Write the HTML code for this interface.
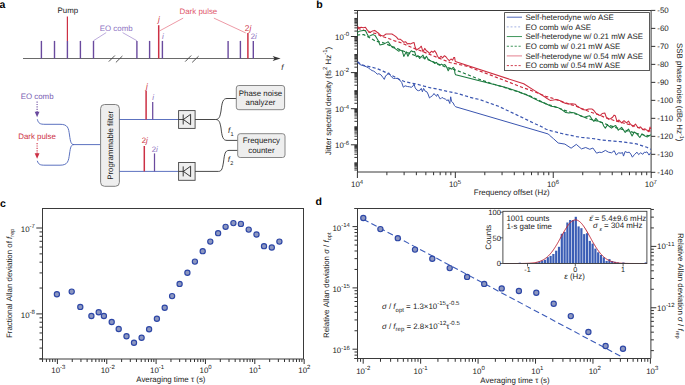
<!DOCTYPE html>
<html><head><meta charset="utf-8"><style>
html,body{margin:0;padding:0;background:#fff;width:685px;height:385px;overflow:hidden}
svg{display:block;font-family:"Liberation Sans", sans-serif;text-rendering:geometricPrecision;font-kerning:none}
</style></head><body>
<svg width="685" height="385" viewBox="0 0 685 385" font-family='"Liberation Sans", sans-serif'>
<rect x="0" y="0" width="685" height="385" fill="#fff"/>
<text x="-0.6" y="8" font-size="10.5" font-weight="bold" fill="#000">a</text>
<text x="316.2" y="8" font-size="10.5" font-weight="bold" fill="#000">b</text>
<text x="-0.1" y="207.1" font-size="10.5" font-weight="bold" fill="#000">c</text>
<text x="315.6" y="204.5" font-size="10.5" font-weight="bold" fill="#000">d</text>
<line x1="23" y1="58.5" x2="276" y2="58.5" stroke="#6a6a6a" stroke-width="1.2" />
<path d="M280.6,58.5 L272.6,55.9 L274.6,58.5 L272.6,61.1 Z" fill="#333"/>
<line x1="108.8" y1="61.6" x2="114.9" y2="55.5" stroke="#444" stroke-width="0.9" />
<line x1="115.9" y1="62.4" x2="122.4" y2="56" stroke="#444" stroke-width="0.9" />
<line x1="185.2" y1="61.6" x2="191.2" y2="55.5" stroke="#444" stroke-width="0.9" />
<line x1="192.2" y1="62.4" x2="198.6" y2="56.2" stroke="#444" stroke-width="0.9" />
<line x1="41.4" y1="40.9" x2="41.4" y2="58.5" stroke="#6a4a9e" stroke-width="1.4" />
<line x1="54.5" y1="40.9" x2="54.5" y2="58.5" stroke="#6a4a9e" stroke-width="1.4" />
<line x1="67.4" y1="40.9" x2="67.4" y2="58.5" stroke="#6a4a9e" stroke-width="1.4" />
<line x1="80.4" y1="40.9" x2="80.4" y2="58.5" stroke="#6a4a9e" stroke-width="1.4" />
<line x1="93.5" y1="40.9" x2="93.5" y2="58.5" stroke="#6a4a9e" stroke-width="1.4" />
<line x1="136.9" y1="40.9" x2="136.9" y2="58.5" stroke="#6a4a9e" stroke-width="1.4" />
<line x1="149.6" y1="40.9" x2="149.6" y2="58.5" stroke="#6a4a9e" stroke-width="1.4" />
<line x1="162.4" y1="40.9" x2="162.4" y2="58.5" stroke="#6a4a9e" stroke-width="1.4" />
<line x1="228.1" y1="40.9" x2="228.1" y2="58.5" stroke="#6a4a9e" stroke-width="1.4" />
<line x1="240.4" y1="40.9" x2="240.4" y2="58.5" stroke="#6a4a9e" stroke-width="1.4" />
<line x1="253.3" y1="40.9" x2="253.3" y2="58.5" stroke="#6a4a9e" stroke-width="1.4" />
<line x1="67.4" y1="16.4" x2="67.4" y2="40.9" stroke="#cc3044" stroke-width="1.2" />
<line x1="158.7" y1="25.2" x2="158.7" y2="58.5" stroke="#cc3044" stroke-width="1.5" />
<line x1="247.9" y1="33" x2="247.9" y2="58.5" stroke="#cc3044" stroke-width="1.5" />
<text x="67.9" y="13.2" font-size="7.9" text-anchor="middle" fill="#222" >Pump</text>
<text x="116.2" y="31" font-size="7.9" text-anchor="middle" fill="#8d71c2" >EO comb</text>
<line x1="106.2" y1="32.6" x2="93.5" y2="40.7" stroke="#8d71c2" stroke-width="0.6" />
<line x1="122.6" y1="32.6" x2="136.9" y2="40.7" stroke="#8d71c2" stroke-width="0.6" />
<text x="198.4" y="14.3" font-size="7.9" text-anchor="middle" fill="#e0566a" >Dark pulse</text>
<line x1="183.2" y1="18.1" x2="159.6" y2="30.9" stroke="#e0566a" stroke-width="0.6" />
<line x1="213.9" y1="18.1" x2="245.7" y2="32.9" stroke="#e0566a" stroke-width="0.6" />
<text x="158.9" y="22.2" font-size="8.3" text-anchor="middle" fill="#cc3044" font-style="italic">j</text>
<text x="163" y="39.2" font-size="7.9" text-anchor="middle" fill="#8d71c2" font-style="italic">i</text>
<text x="248" y="30.8" font-size="8.3" text-anchor="middle" fill="#cc3044" >2<tspan font-style="italic">j</tspan></text>
<text x="253.8" y="38.9" font-size="7.9" text-anchor="middle" fill="#8d71c2" >2<tspan font-style="italic">i</tspan></text>
<text x="282.3" y="69.8" font-size="7.9" text-anchor="middle" fill="#222" font-style="italic">f</text>
<text x="37.1" y="98.6" font-size="7.9" text-anchor="middle" fill="#7a5cb2" >EO comb</text>
<line x1="37.1" y1="101.5" x2="37.1" y2="113" stroke="#6a4a9e" stroke-width="1.1" stroke-dasharray="1.2 1.2"/>
<path d="M37.1,117.2 L34.7,111.8 L39.5,111.8 Z" fill="#6a4a9e"/>
<text x="37.1" y="139.3" font-size="7.9" text-anchor="middle" fill="#cc3044" >Dark pulse</text>
<line x1="37.1" y1="143" x2="37.1" y2="154.5" stroke="#cc3044" stroke-width="1.1" stroke-dasharray="1.2 1.2"/>
<path d="M37.1,158.7 L34.7,153.3 L39.5,153.3 Z" fill="#cc3044"/>
<path d="M37.3,119.3 C38.5,123.5 40,124.3 45,124.3 L60,124.3 C68,124.3 68.5,128 69.5,135 C70.5,142 71,144.6 74,144.6 L100.5,144.6" fill="none" stroke="#4a62b8" stroke-width="0.9"/>
<path d="M37.3,160.8 C38.5,164.5 40,165.2 45,165.2 L60,165.2 C68,165.2 68.5,161 69.5,154 C70.5,147 71,144.6 74,144.6" fill="none" stroke="#4a62b8" stroke-width="0.9"/>
<rect x="100.6" y="104.5" width="18.8" height="81.8" rx="4" ry="4" fill="#eeeeee" stroke="#808080" stroke-width="1"/>
<text transform="translate(113.2,145.4) rotate(-90)" x="0" y="0" font-size="7.9" text-anchor="middle" fill="#222">Programmable filter</text>
<line x1="119.4" y1="119.5" x2="178.6" y2="119.5" stroke="#4a62b8" stroke-width="0.9" />
<line x1="119.4" y1="171.4" x2="178.6" y2="171.4" stroke="#4a62b8" stroke-width="0.9" />
<line x1="146.1" y1="90.8" x2="146.1" y2="119.5" stroke="#cc3044" stroke-width="1.5" />
<line x1="152.7" y1="101.9" x2="152.7" y2="119.5" stroke="#6a4a9e" stroke-width="1.25" />
<text x="146.9" y="89" font-size="8.3" text-anchor="middle" fill="#cc3044" font-style="italic">j</text>
<text x="153.2" y="99.6" font-size="7.9" text-anchor="middle" fill="#8d71c2" font-style="italic">i</text>
<line x1="144.3" y1="146" x2="144.3" y2="171.4" stroke="#cc3044" stroke-width="1.5" />
<line x1="154.5" y1="153.4" x2="154.5" y2="171.4" stroke="#6a4a9e" stroke-width="1.25" />
<text x="144.8" y="143.3" font-size="7.9" text-anchor="middle" fill="#cc3044" >2<tspan font-style="italic">j</tspan></text>
<text x="154.8" y="151.8" font-size="7.9" text-anchor="middle" fill="#8d71c2" >2<tspan font-style="italic">i</tspan></text>
<rect x="178.6" y="110.6" width="16.5" height="17.8" fill="#eeeeee" stroke="#444" stroke-width="0.9"/>
<line x1="178.6" y1="119.5" x2="183.2" y2="119.5" stroke="#333" stroke-width="0.9" />
<line x1="183.2" y1="114.5" x2="183.2" y2="124.5" stroke="#222" stroke-width="0.9" />
<path d="M190.6,114.3 L183.4,119.5 L190.6,124.7 Z" fill="none" stroke="#222" stroke-width="0.9" stroke-linejoin="miter"/>
<rect x="178.6" y="162.5" width="16.5" height="17.8" fill="#eeeeee" stroke="#444" stroke-width="0.9"/>
<line x1="178.6" y1="171.4" x2="183.2" y2="171.4" stroke="#333" stroke-width="0.9" />
<line x1="183.2" y1="166.4" x2="183.2" y2="176.4" stroke="#222" stroke-width="0.9" />
<path d="M190.6,166.2 L183.4,171.4 L190.6,176.6 Z" fill="none" stroke="#222" stroke-width="0.9" stroke-linejoin="miter"/>
<path d="M195.1,119.5 L215.5,119.5 C219,119.5 220,117 221,111 C222,102 223,98.5 227,98.5 L236.3,98.5" fill="none" stroke="#333" stroke-width="0.9"/>
<path d="M215.5,119.5 C219,119.5 220,122 221,128 C222,137 223,140.4 227,140.4 L237.7,140.4" fill="none" stroke="#333" stroke-width="0.9"/>
<path d="M195.1,171.4 L218.5,171.4 C222,171.4 222.5,168 223.5,162 C224.5,154 225,150.4 229,150.4 L237.7,150.4" fill="none" stroke="#333" stroke-width="0.9"/>
<rect x="236.3" y="85.5" width="48.3" height="24.2" rx="2.5" ry="2.5" fill="#eeeeee" stroke="#7a7a7a" stroke-width="0.9"/>
<text x="260.5" y="96" font-size="7.9" text-anchor="middle" fill="#222" >Phase noise</text>
<text x="260.5" y="105.3" font-size="7.9" text-anchor="middle" fill="#222" >analyzer</text>
<rect x="237.7" y="133.7" width="47.3" height="23.8" rx="2.5" ry="2.5" fill="#eeeeee" stroke="#7a7a7a" stroke-width="0.9"/>
<text x="261.4" y="143.4" font-size="7.9" text-anchor="middle" fill="#222" >Frequency</text>
<text x="261.4" y="153" font-size="7.9" text-anchor="middle" fill="#222" >counter</text>
<text x="228" y="132.6" font-size="7.9" text-anchor="start" fill="#222" ><tspan font-style="italic">f</tspan><tspan font-size="5.6" dy="3.2" dx="0.3">1</tspan></text>
<text x="227.8" y="162" font-size="7.9" text-anchor="start" fill="#222" ><tspan font-style="italic">f</tspan><tspan font-size="5.6" dy="3.4" dx="0.3">2</tspan></text>
<line x1="357.4" y1="172" x2="357.4" y2="178" stroke="#1a1a1a" stroke-width="0.9" />
<line x1="386.88" y1="172" x2="386.88" y2="175.2" stroke="#1a1a1a" stroke-width="0.9" />
<line x1="404.12" y1="172" x2="404.12" y2="175.2" stroke="#1a1a1a" stroke-width="0.9" />
<line x1="416.36" y1="172" x2="416.36" y2="175.2" stroke="#1a1a1a" stroke-width="0.9" />
<line x1="425.85" y1="172" x2="425.85" y2="175.2" stroke="#1a1a1a" stroke-width="0.9" />
<line x1="433.6" y1="172" x2="433.6" y2="175.2" stroke="#1a1a1a" stroke-width="0.9" />
<line x1="440.16" y1="172" x2="440.16" y2="175.2" stroke="#1a1a1a" stroke-width="0.9" />
<line x1="445.84" y1="172" x2="445.84" y2="175.2" stroke="#1a1a1a" stroke-width="0.9" />
<line x1="450.85" y1="172" x2="450.85" y2="175.2" stroke="#1a1a1a" stroke-width="0.9" />
<line x1="455.33" y1="172" x2="455.33" y2="178" stroke="#1a1a1a" stroke-width="0.9" />
<line x1="484.81" y1="172" x2="484.81" y2="175.2" stroke="#1a1a1a" stroke-width="0.9" />
<line x1="502.05" y1="172" x2="502.05" y2="175.2" stroke="#1a1a1a" stroke-width="0.9" />
<line x1="514.29" y1="172" x2="514.29" y2="175.2" stroke="#1a1a1a" stroke-width="0.9" />
<line x1="523.78" y1="172" x2="523.78" y2="175.2" stroke="#1a1a1a" stroke-width="0.9" />
<line x1="531.53" y1="172" x2="531.53" y2="175.2" stroke="#1a1a1a" stroke-width="0.9" />
<line x1="538.09" y1="172" x2="538.09" y2="175.2" stroke="#1a1a1a" stroke-width="0.9" />
<line x1="543.77" y1="172" x2="543.77" y2="175.2" stroke="#1a1a1a" stroke-width="0.9" />
<line x1="548.78" y1="172" x2="548.78" y2="175.2" stroke="#1a1a1a" stroke-width="0.9" />
<line x1="553.26" y1="172" x2="553.26" y2="178" stroke="#1a1a1a" stroke-width="0.9" />
<line x1="582.74" y1="172" x2="582.74" y2="175.2" stroke="#1a1a1a" stroke-width="0.9" />
<line x1="599.98" y1="172" x2="599.98" y2="175.2" stroke="#1a1a1a" stroke-width="0.9" />
<line x1="612.22" y1="172" x2="612.22" y2="175.2" stroke="#1a1a1a" stroke-width="0.9" />
<line x1="621.71" y1="172" x2="621.71" y2="175.2" stroke="#1a1a1a" stroke-width="0.9" />
<line x1="629.46" y1="172" x2="629.46" y2="175.2" stroke="#1a1a1a" stroke-width="0.9" />
<line x1="636.02" y1="172" x2="636.02" y2="175.2" stroke="#1a1a1a" stroke-width="0.9" />
<line x1="641.7" y1="172" x2="641.7" y2="175.2" stroke="#1a1a1a" stroke-width="0.9" />
<line x1="646.71" y1="172" x2="646.71" y2="175.2" stroke="#1a1a1a" stroke-width="0.9" />
<line x1="651.19" y1="172" x2="651.19" y2="178" stroke="#1a1a1a" stroke-width="0.9" />
<text x="357.1" y="187" font-size="7.9" text-anchor="middle" fill="#222">10<tspan font-size="6" dy="-3.5">4</tspan></text>
<text x="455.03" y="187" font-size="7.9" text-anchor="middle" fill="#222">10<tspan font-size="6" dy="-3.5">5</tspan></text>
<text x="552.96" y="187" font-size="7.9" text-anchor="middle" fill="#222">10<tspan font-size="6" dy="-3.5">6</tspan></text>
<text x="650.89" y="187" font-size="7.9" text-anchor="middle" fill="#222">10<tspan font-size="6" dy="-3.5">7</tspan></text>
<line x1="354.4" y1="170.03" x2="357.5" y2="170.03" stroke="#1a1a1a" stroke-width="0.9" />
<line x1="354.4" y1="168.28" x2="357.5" y2="168.28" stroke="#1a1a1a" stroke-width="0.9" />
<line x1="354.4" y1="166.85" x2="357.5" y2="166.85" stroke="#1a1a1a" stroke-width="0.9" />
<line x1="354.4" y1="165.65" x2="357.5" y2="165.65" stroke="#1a1a1a" stroke-width="0.9" />
<line x1="354.4" y1="164.6" x2="357.5" y2="164.6" stroke="#1a1a1a" stroke-width="0.9" />
<line x1="354.4" y1="163.68" x2="357.5" y2="163.68" stroke="#1a1a1a" stroke-width="0.9" />
<line x1="354.4" y1="162.85" x2="357.5" y2="162.85" stroke="#1a1a1a" stroke-width="0.9" />
<line x1="354.4" y1="157.42" x2="357.5" y2="157.42" stroke="#1a1a1a" stroke-width="0.9" />
<line x1="354.4" y1="154.24" x2="357.5" y2="154.24" stroke="#1a1a1a" stroke-width="0.9" />
<line x1="354.4" y1="151.98" x2="357.5" y2="151.98" stroke="#1a1a1a" stroke-width="0.9" />
<line x1="354.4" y1="150.23" x2="357.5" y2="150.23" stroke="#1a1a1a" stroke-width="0.9" />
<line x1="354.4" y1="148.8" x2="357.5" y2="148.8" stroke="#1a1a1a" stroke-width="0.9" />
<line x1="354.4" y1="147.6" x2="357.5" y2="147.6" stroke="#1a1a1a" stroke-width="0.9" />
<line x1="354.4" y1="146.55" x2="357.5" y2="146.55" stroke="#1a1a1a" stroke-width="0.9" />
<line x1="354.4" y1="145.63" x2="357.5" y2="145.63" stroke="#1a1a1a" stroke-width="0.9" />
<line x1="350.9" y1="144.8" x2="357.5" y2="144.8" stroke="#1a1a1a" stroke-width="0.9" />
<line x1="354.4" y1="139.37" x2="357.5" y2="139.37" stroke="#1a1a1a" stroke-width="0.9" />
<line x1="354.4" y1="136.19" x2="357.5" y2="136.19" stroke="#1a1a1a" stroke-width="0.9" />
<line x1="354.4" y1="133.93" x2="357.5" y2="133.93" stroke="#1a1a1a" stroke-width="0.9" />
<line x1="354.4" y1="132.18" x2="357.5" y2="132.18" stroke="#1a1a1a" stroke-width="0.9" />
<line x1="354.4" y1="130.75" x2="357.5" y2="130.75" stroke="#1a1a1a" stroke-width="0.9" />
<line x1="354.4" y1="129.55" x2="357.5" y2="129.55" stroke="#1a1a1a" stroke-width="0.9" />
<line x1="354.4" y1="128.5" x2="357.5" y2="128.5" stroke="#1a1a1a" stroke-width="0.9" />
<line x1="354.4" y1="127.58" x2="357.5" y2="127.58" stroke="#1a1a1a" stroke-width="0.9" />
<line x1="354.4" y1="126.75" x2="357.5" y2="126.75" stroke="#1a1a1a" stroke-width="0.9" />
<line x1="354.4" y1="121.32" x2="357.5" y2="121.32" stroke="#1a1a1a" stroke-width="0.9" />
<line x1="354.4" y1="118.14" x2="357.5" y2="118.14" stroke="#1a1a1a" stroke-width="0.9" />
<line x1="354.4" y1="115.88" x2="357.5" y2="115.88" stroke="#1a1a1a" stroke-width="0.9" />
<line x1="354.4" y1="114.13" x2="357.5" y2="114.13" stroke="#1a1a1a" stroke-width="0.9" />
<line x1="354.4" y1="112.7" x2="357.5" y2="112.7" stroke="#1a1a1a" stroke-width="0.9" />
<line x1="354.4" y1="111.5" x2="357.5" y2="111.5" stroke="#1a1a1a" stroke-width="0.9" />
<line x1="354.4" y1="110.45" x2="357.5" y2="110.45" stroke="#1a1a1a" stroke-width="0.9" />
<line x1="354.4" y1="109.53" x2="357.5" y2="109.53" stroke="#1a1a1a" stroke-width="0.9" />
<line x1="350.9" y1="108.7" x2="357.5" y2="108.7" stroke="#1a1a1a" stroke-width="0.9" />
<line x1="354.4" y1="103.27" x2="357.5" y2="103.27" stroke="#1a1a1a" stroke-width="0.9" />
<line x1="354.4" y1="100.09" x2="357.5" y2="100.09" stroke="#1a1a1a" stroke-width="0.9" />
<line x1="354.4" y1="97.83" x2="357.5" y2="97.83" stroke="#1a1a1a" stroke-width="0.9" />
<line x1="354.4" y1="96.08" x2="357.5" y2="96.08" stroke="#1a1a1a" stroke-width="0.9" />
<line x1="354.4" y1="94.65" x2="357.5" y2="94.65" stroke="#1a1a1a" stroke-width="0.9" />
<line x1="354.4" y1="93.45" x2="357.5" y2="93.45" stroke="#1a1a1a" stroke-width="0.9" />
<line x1="354.4" y1="92.4" x2="357.5" y2="92.4" stroke="#1a1a1a" stroke-width="0.9" />
<line x1="354.4" y1="91.48" x2="357.5" y2="91.48" stroke="#1a1a1a" stroke-width="0.9" />
<line x1="354.4" y1="90.65" x2="357.5" y2="90.65" stroke="#1a1a1a" stroke-width="0.9" />
<line x1="354.4" y1="85.22" x2="357.5" y2="85.22" stroke="#1a1a1a" stroke-width="0.9" />
<line x1="354.4" y1="82.04" x2="357.5" y2="82.04" stroke="#1a1a1a" stroke-width="0.9" />
<line x1="354.4" y1="79.78" x2="357.5" y2="79.78" stroke="#1a1a1a" stroke-width="0.9" />
<line x1="354.4" y1="78.03" x2="357.5" y2="78.03" stroke="#1a1a1a" stroke-width="0.9" />
<line x1="354.4" y1="76.6" x2="357.5" y2="76.6" stroke="#1a1a1a" stroke-width="0.9" />
<line x1="354.4" y1="75.4" x2="357.5" y2="75.4" stroke="#1a1a1a" stroke-width="0.9" />
<line x1="354.4" y1="74.35" x2="357.5" y2="74.35" stroke="#1a1a1a" stroke-width="0.9" />
<line x1="354.4" y1="73.43" x2="357.5" y2="73.43" stroke="#1a1a1a" stroke-width="0.9" />
<line x1="350.9" y1="72.6" x2="357.5" y2="72.6" stroke="#1a1a1a" stroke-width="0.9" />
<line x1="354.4" y1="67.17" x2="357.5" y2="67.17" stroke="#1a1a1a" stroke-width="0.9" />
<line x1="354.4" y1="63.99" x2="357.5" y2="63.99" stroke="#1a1a1a" stroke-width="0.9" />
<line x1="354.4" y1="61.73" x2="357.5" y2="61.73" stroke="#1a1a1a" stroke-width="0.9" />
<line x1="354.4" y1="59.98" x2="357.5" y2="59.98" stroke="#1a1a1a" stroke-width="0.9" />
<line x1="354.4" y1="58.55" x2="357.5" y2="58.55" stroke="#1a1a1a" stroke-width="0.9" />
<line x1="354.4" y1="57.35" x2="357.5" y2="57.35" stroke="#1a1a1a" stroke-width="0.9" />
<line x1="354.4" y1="56.3" x2="357.5" y2="56.3" stroke="#1a1a1a" stroke-width="0.9" />
<line x1="354.4" y1="55.38" x2="357.5" y2="55.38" stroke="#1a1a1a" stroke-width="0.9" />
<line x1="354.4" y1="54.55" x2="357.5" y2="54.55" stroke="#1a1a1a" stroke-width="0.9" />
<line x1="354.4" y1="49.12" x2="357.5" y2="49.12" stroke="#1a1a1a" stroke-width="0.9" />
<line x1="354.4" y1="45.94" x2="357.5" y2="45.94" stroke="#1a1a1a" stroke-width="0.9" />
<line x1="354.4" y1="43.68" x2="357.5" y2="43.68" stroke="#1a1a1a" stroke-width="0.9" />
<line x1="354.4" y1="41.93" x2="357.5" y2="41.93" stroke="#1a1a1a" stroke-width="0.9" />
<line x1="354.4" y1="40.5" x2="357.5" y2="40.5" stroke="#1a1a1a" stroke-width="0.9" />
<line x1="354.4" y1="39.3" x2="357.5" y2="39.3" stroke="#1a1a1a" stroke-width="0.9" />
<line x1="354.4" y1="38.25" x2="357.5" y2="38.25" stroke="#1a1a1a" stroke-width="0.9" />
<line x1="354.4" y1="37.33" x2="357.5" y2="37.33" stroke="#1a1a1a" stroke-width="0.9" />
<line x1="350.9" y1="36.5" x2="357.5" y2="36.5" stroke="#1a1a1a" stroke-width="0.9" />
<line x1="354.4" y1="31.07" x2="357.5" y2="31.07" stroke="#1a1a1a" stroke-width="0.9" />
<line x1="354.4" y1="27.89" x2="357.5" y2="27.89" stroke="#1a1a1a" stroke-width="0.9" />
<line x1="354.4" y1="25.63" x2="357.5" y2="25.63" stroke="#1a1a1a" stroke-width="0.9" />
<line x1="354.4" y1="23.88" x2="357.5" y2="23.88" stroke="#1a1a1a" stroke-width="0.9" />
<line x1="354.4" y1="22.45" x2="357.5" y2="22.45" stroke="#1a1a1a" stroke-width="0.9" />
<line x1="354.4" y1="21.25" x2="357.5" y2="21.25" stroke="#1a1a1a" stroke-width="0.9" />
<line x1="354.4" y1="20.2" x2="357.5" y2="20.2" stroke="#1a1a1a" stroke-width="0.9" />
<line x1="354.4" y1="19.28" x2="357.5" y2="19.28" stroke="#1a1a1a" stroke-width="0.9" />
<line x1="354.4" y1="18.45" x2="357.5" y2="18.45" stroke="#1a1a1a" stroke-width="0.9" />
<line x1="354.4" y1="13.02" x2="357.5" y2="13.02" stroke="#1a1a1a" stroke-width="0.9" />
<text x="349.2" y="39.8" font-size="7.9" text-anchor="end" fill="#222">10<tspan font-size="6" dy="-3.5">-0</tspan></text>
<text x="349.2" y="75.9" font-size="7.9" text-anchor="end" fill="#222">10<tspan font-size="6" dy="-3.5">-2</tspan></text>
<text x="349.2" y="112" font-size="7.9" text-anchor="end" fill="#222">10<tspan font-size="6" dy="-3.5">-4</tspan></text>
<text x="349.2" y="148.1" font-size="7.9" text-anchor="end" fill="#222">10<tspan font-size="6" dy="-3.5">-6</tspan></text>
<line x1="651.1" y1="10.4" x2="655.3" y2="10.4" stroke="#1a1a1a" stroke-width="0.9" />
<text x="657.3" y="13.3" font-size="7.9" text-anchor="start" fill="#222" >-50</text>
<line x1="651.1" y1="28.39" x2="655.3" y2="28.39" stroke="#1a1a1a" stroke-width="0.9" />
<text x="657.3" y="31.29" font-size="7.9" text-anchor="start" fill="#222" >-60</text>
<line x1="651.1" y1="46.38" x2="655.3" y2="46.38" stroke="#1a1a1a" stroke-width="0.9" />
<text x="657.3" y="49.28" font-size="7.9" text-anchor="start" fill="#222" >-70</text>
<line x1="651.1" y1="64.37" x2="655.3" y2="64.37" stroke="#1a1a1a" stroke-width="0.9" />
<text x="657.3" y="67.27" font-size="7.9" text-anchor="start" fill="#222" >-80</text>
<line x1="651.1" y1="82.36" x2="655.3" y2="82.36" stroke="#1a1a1a" stroke-width="0.9" />
<text x="657.3" y="85.26" font-size="7.9" text-anchor="start" fill="#222" >-90</text>
<line x1="651.1" y1="100.35" x2="655.3" y2="100.35" stroke="#1a1a1a" stroke-width="0.9" />
<text x="657.3" y="103.25" font-size="7.9" text-anchor="start" fill="#222" >-100</text>
<line x1="651.1" y1="118.34" x2="655.3" y2="118.34" stroke="#1a1a1a" stroke-width="0.9" />
<text x="657.3" y="121.24" font-size="7.9" text-anchor="start" fill="#222" >-110</text>
<line x1="651.1" y1="136.33" x2="655.3" y2="136.33" stroke="#1a1a1a" stroke-width="0.9" />
<text x="657.3" y="139.23" font-size="7.9" text-anchor="start" fill="#222" >-120</text>
<line x1="651.1" y1="154.32" x2="655.3" y2="154.32" stroke="#1a1a1a" stroke-width="0.9" />
<text x="657.3" y="157.22" font-size="7.9" text-anchor="start" fill="#222" >-130</text>
<line x1="651.1" y1="172.31" x2="655.3" y2="172.31" stroke="#1a1a1a" stroke-width="0.9" />
<text x="657.3" y="175.21" font-size="7.9" text-anchor="start" fill="#222" >-140</text>
<line x1="354" y1="10.5" x2="651.1" y2="10.5" stroke="#3a3a3a" stroke-width="1" />
<line x1="357.5" y1="172" x2="651.1" y2="172" stroke="#3a3a3a" stroke-width="1" />
<line x1="357.5" y1="10.5" x2="357.5" y2="172" stroke="#3a3a3a" stroke-width="1" />
<line x1="651.1" y1="10.5" x2="651.1" y2="172" stroke="#3a3a3a" stroke-width="1" />
<text x="511.8" y="195.4" font-size="7.9" text-anchor="middle" fill="#222" >Frequency offset (Hz)</text>
<text transform="translate(330.6,100.9) rotate(-90)" font-size="7.9" text-anchor="middle" fill="#222">Jitter spectral density  (fs<tspan font-size="6" dy="-4">2</tspan><tspan dy="4"> Hz</tspan><tspan font-size="6" dy="-4">-1</tspan><tspan dy="4">)</tspan></text>
<text transform="translate(676.5,92.3) rotate(90)" font-size="7.9" text-anchor="middle" fill="#222">SSB phase noise  (dBc Hz<tspan font-size="5.6" dy="-3">-1</tspan><tspan dy="3">)</tspan></text>
<polyline points="357.6,61.8 360.7,64.2 364.3,65.5 370,66.8 376.8,68.5 383,71.1 389.3,74.2 394.5,76.8 400.7,80 404.9,81.7 410.7,82.9 417.4,84.3 424.1,86.2 430.8,87.9 437.5,89 444.3,90.7 451,92.1 457.7,93.5 470,97.3 479.9,99.6 489.2,103 498.6,106.3 507.4,110.5 516.2,114.6 525,118.9 533,122.8 541.6,126.7 546.2,129.3 551.4,130.9 556.6,132.2 561.8,133.5 567,134.7 572.2,135.6 576.3,136.6 581.5,137.4 586.7,137.9 591.9,138.5 597.1,139.2 601.2,140.1 607.5,140.6 613.7,141.1 619.9,141.6 626.1,142.4 631.3,143.2 636.5,143.9 641.7,145.6 646.9,147.3 650.8,149.4" fill="none" stroke="#3a55b0" stroke-width="1.2" stroke-dasharray="3.2 2.2" stroke-linejoin="round" />
<polyline points="357,35.1 361.2,34.6 363.8,34.6 370.6,38.2 375.8,41.3 382,42.3 387.2,44.4 392.4,46.5 398.6,49.1 403.8,51.2 415,55.5 423.6,57.8 431,61 438.2,64 446,67.2 456.2,70.2 466.7,74.3 478.4,79 490.1,83.1 501.8,86.6 512,89.9 528.4,95.1 545.9,103.9 553,106 563.7,110 576.2,114.1 588.7,118.8 600,121.9 608.4,125 618.8,128.6 629.2,131.2 639.6,134.3 650.8,135.9" fill="none" stroke="#1b7a3e" stroke-width="1.2" stroke-dasharray="3.2 2.2" stroke-linejoin="round" />
<polyline points="357.6,28.5 362,29.5 368.5,32 376.8,33.8 381,36.1 389.3,38.7 394.5,40.8 399.7,42.3 405,44.5 411.3,47.3 420,50.5 434.2,56.2 450,62.5 466.7,66.1 490.1,74.9 510.8,82.9 522.5,87.5 534.2,91.6 545.9,96.3 554.1,98.7 565,102.7 576.2,106.3 586.6,110.5 590.7,112.2 600,115.2 604.2,117.2 613.6,120.3 625,123.4 634.4,126 643.7,129.6 650.8,131.2" fill="none" stroke="#cc2b3e" stroke-width="1.2" stroke-dasharray="3.2 2.2" stroke-linejoin="round" />
<polyline points="357.6,61.8 359.6,64.4 362.2,65.4 364.8,66.2 366.9,67 368.5,68 370.6,69.6 372.1,70.6 373.7,71.1 375.2,72.2 377.3,74.2 378.9,73.7 380.9,74.8 382.8,77.3 384.3,79.4 385.6,75.8 387.2,74.8 388.7,72.7 390.3,75.3 391.9,77.3 393.4,78.4 395.5,78.4 397.6,78.4 399.7,80 401.7,82.5 403.3,87.2 405.1,85.8 407.4,86.5 409.6,86.8 411.3,87.3 412.9,86.2 414.1,84 415.2,87.9 416.9,90.1 418.5,90.7 420.2,90.1 421.3,88.4 422.4,91.8 423.6,88.4 425.2,91.2 426.9,91.8 428,94 429.5,98 430.8,96.8 432.5,95.7 434,93.5 435.3,95.2 436.6,96.3 437.5,94 438.9,96.8 440.3,99.1 442,97.4 443.7,98.5 445.4,99.1 447,100.7 448.2,99.6 449.8,103.5 450.7,96.8 451.5,101.3 453.2,103 454.5,105.6 455.7,106.8 548.3,134 549.3,135.1 553.5,138.7 558.2,143 564.9,144.1 571.1,148.2 576.3,144.4 581.5,148.9 585.7,147.5 589.8,149.3 592.9,148 596.6,153.2 599.2,152.2 601.7,152.5 605.4,150.4 608.5,152.2 611.6,152.8 614.2,150.7 616.3,155.1 618.4,152.8 621,153.2 622.5,152.5 623.5,156.1 625.1,151.5 627.2,152.5 629.3,152.2 630.8,154.1 632.4,157.2 634.4,154.6 637,152.2 638.6,154.6 640.7,152.8 642.8,154.3 644.3,152.2 645.9,152.5 646.9,151.8 647.9,153.2 649,155.1 650.8,152.5" fill="none" stroke="#3a55b0" stroke-width="1.0" stroke-linejoin="round" />
<polyline points="357,32.5 360.2,30.9 363.3,30.4 365.4,30.4 366.9,33.5 368.5,36.6 370.6,35.6 373.2,34.6 375.2,35.6 376.8,38.2 378.3,40.8 379.9,44.9 382,44.4 384.1,43.9 386.1,42.9 388.2,41.8 390.3,44.9 392.4,47.5 394.5,48.1 396.5,49.6 398.6,51.2 400.7,50.1 402.3,51.2 403.8,56.4 405.1,54 406.2,51.8 407.9,56.2 409.6,52.9 411.3,50.7 412.9,51.8 414.6,51.5 416.3,56.8 418,55.7 419.7,58.5 421.3,56.8 423,55.1 424.7,59 426.4,56.2 428,59 429.7,60.2 431.4,61.3 433.1,61.8 434.7,63.5 436.4,62.4 438.1,64.6 439.8,65.2 441.5,64.1 443.1,65.2 444.8,64.6 446.5,66.9 448.2,70.8 449.8,68 451.5,69.1 453.2,67.4 454.3,68.5 455,73.5 455.7,74.7 505,87.3 516.7,91.1 528.4,95.7 540.1,101.6 545,103.2 548.1,104.8 551.2,106.3 554.4,106.8 557.5,107.4 560.6,108.9 563.7,111 565.8,112.6 568.9,113.1 572,112.6 575.2,113.1 578.3,114.6 581.4,116.2 584.5,117.2 587.6,116.2 589.7,115.7 591.8,118.8 593.9,121.4 595.9,118.3 598,120.9 599.6,121.8 602.2,122.4 603.7,126 605.3,128.1 607.4,125 609.4,126.5 611.5,128.1 613.6,126.5 615.7,125.5 618.3,130.2 621.6,127.3 625.2,132.4 628.5,129.1 632.1,136 634.3,132 636.8,133.8 639.8,137.5 642,133.8 645,136 647.4,136.9 648.9,135.9 650.8,134.8" fill="none" stroke="#1b7a3e" stroke-width="1.05" stroke-linejoin="round" />
<polyline points="357.6,26.8 359.1,27.8 361.2,27.3 363.3,27.8 365.4,27.3 367.4,30.4 370,32.5 372.6,30.9 374.7,30.4 376.8,32 378.9,33.5 381,35.6 383,36.1 386.1,34 389.3,34 391.9,34 394.5,35.6 396.5,37.2 398.1,39.2 400.2,39.2 402.3,40.8 403.8,42.3 405.7,41.7 407.4,43.9 409,43.4 410.7,43.9 412.4,43 414.1,42.6 415.2,47.3 416.3,50.1 418,49 419.7,47.9 421.3,46.2 423,51.8 424.7,48.4 426.4,50.7 428,51.8 429.7,53.4 431.4,51.2 433.1,52.3 434.7,50.7 436.4,53.4 437.5,56.2 439.2,58.5 440.9,56.2 442.6,57.9 444.3,55.7 445.9,56.8 447.6,59 449.3,60.7 451,59 452.6,60.2 453.8,57.4 454.6,57.4 455.2,61.1 456,61.8 523.7,83.8 535.4,91.1 545,97 547.1,98.5 550.2,100.4 553.3,100.1 556.4,99.6 559.6,100.4 562.7,102.2 565.8,103.5 568.9,104 572,103.7 575.2,104.2 577.2,106.3 579.3,107.4 582.4,109.4 585.5,110 588.7,108.9 591.8,108.9 593.9,110.5 595.9,113.1 598,114.6 600.1,115.6 602.2,113.5 604.8,113 606.3,117.2 608.4,119.2 610.5,118.7 612.6,117.2 614.1,115.1 615.3,115.7 617,121.5 619,120 621.5,122.9 624,120.7 626.5,122.9 628.5,121.1 630,123.7 633,126.6 635.5,124 638,127.7 640.5,126.9 643,129.8 645,128.8 647.4,130.7 648.9,131.7 650,127 650.8,129.1" fill="none" stroke="#cc2b3e" stroke-width="1.05" stroke-linejoin="round" />
<rect x="504.6" y="12.6" width="144.8" height="58" fill="#fff" stroke="#333" stroke-width="0.8"/>
<line x1="506.8" y1="17.2" x2="522" y2="17.2" stroke="#3a55b0" stroke-width="0.9" />
<text x="525.6" y="20" font-size="7.9" text-anchor="start" fill="#222" >Self-heterodyne w/o ASE</text>
<line x1="506.8" y1="26.88" x2="522" y2="26.88" stroke="#9aaae0" stroke-width="0.9" stroke-dasharray="1.9 1.9"/>
<text x="525.6" y="29.68" font-size="7.9" text-anchor="start" fill="#222" >EO comb w/o ASE</text>
<line x1="506.8" y1="36.56" x2="522" y2="36.56" stroke="#2a8a4a" stroke-width="0.9" />
<text x="525.6" y="39.36" font-size="7.9" text-anchor="start" fill="#222" >Self-heterodyne w/ 0.21 mW ASE</text>
<line x1="506.8" y1="46.24" x2="522" y2="46.24" stroke="#2a8a4a" stroke-width="0.9" stroke-dasharray="2.2 1.7"/>
<text x="525.6" y="49.04" font-size="7.9" text-anchor="start" fill="#222" >EO comb w/ 0.21 mW ASE</text>
<line x1="506.8" y1="55.92" x2="522" y2="55.92" stroke="#e07080" stroke-width="0.9" />
<text x="525.6" y="58.72" font-size="7.9" text-anchor="start" fill="#222" >Self-heterodyne w/ 0.54 mW ASE</text>
<line x1="506.8" y1="65.6" x2="522" y2="65.6" stroke="#cc2b3e" stroke-width="0.9" stroke-dasharray="2.2 1.7"/>
<text x="525.6" y="68.4" font-size="7.9" text-anchor="start" fill="#222" >EO comb w/ 0.54 mW ASE</text>
<line x1="42.54" y1="359" x2="42.54" y2="362" stroke="#1a1a1a" stroke-width="0.9" />
<line x1="46.45" y1="359" x2="46.45" y2="362" stroke="#1a1a1a" stroke-width="0.9" />
<line x1="49.76" y1="359" x2="49.76" y2="362" stroke="#1a1a1a" stroke-width="0.9" />
<line x1="52.62" y1="359" x2="52.62" y2="362" stroke="#1a1a1a" stroke-width="0.9" />
<line x1="55.14" y1="359" x2="55.14" y2="362" stroke="#1a1a1a" stroke-width="0.9" />
<line x1="57.4" y1="359" x2="57.4" y2="364" stroke="#1a1a1a" stroke-width="0.9" />
<line x1="72.26" y1="359" x2="72.26" y2="362" stroke="#1a1a1a" stroke-width="0.9" />
<line x1="80.95" y1="359" x2="80.95" y2="362" stroke="#1a1a1a" stroke-width="0.9" />
<line x1="87.11" y1="359" x2="87.11" y2="362" stroke="#1a1a1a" stroke-width="0.9" />
<line x1="91.89" y1="359" x2="91.89" y2="362" stroke="#1a1a1a" stroke-width="0.9" />
<line x1="95.8" y1="359" x2="95.8" y2="362" stroke="#1a1a1a" stroke-width="0.9" />
<line x1="99.11" y1="359" x2="99.11" y2="362" stroke="#1a1a1a" stroke-width="0.9" />
<line x1="101.97" y1="359" x2="101.97" y2="362" stroke="#1a1a1a" stroke-width="0.9" />
<line x1="104.49" y1="359" x2="104.49" y2="362" stroke="#1a1a1a" stroke-width="0.9" />
<line x1="106.75" y1="359" x2="106.75" y2="364" stroke="#1a1a1a" stroke-width="0.9" />
<line x1="121.61" y1="359" x2="121.61" y2="362" stroke="#1a1a1a" stroke-width="0.9" />
<line x1="130.3" y1="359" x2="130.3" y2="362" stroke="#1a1a1a" stroke-width="0.9" />
<line x1="136.46" y1="359" x2="136.46" y2="362" stroke="#1a1a1a" stroke-width="0.9" />
<line x1="141.24" y1="359" x2="141.24" y2="362" stroke="#1a1a1a" stroke-width="0.9" />
<line x1="145.15" y1="359" x2="145.15" y2="362" stroke="#1a1a1a" stroke-width="0.9" />
<line x1="148.46" y1="359" x2="148.46" y2="362" stroke="#1a1a1a" stroke-width="0.9" />
<line x1="151.32" y1="359" x2="151.32" y2="362" stroke="#1a1a1a" stroke-width="0.9" />
<line x1="153.84" y1="359" x2="153.84" y2="362" stroke="#1a1a1a" stroke-width="0.9" />
<line x1="156.1" y1="359" x2="156.1" y2="364" stroke="#1a1a1a" stroke-width="0.9" />
<line x1="170.96" y1="359" x2="170.96" y2="362" stroke="#1a1a1a" stroke-width="0.9" />
<line x1="179.65" y1="359" x2="179.65" y2="362" stroke="#1a1a1a" stroke-width="0.9" />
<line x1="185.81" y1="359" x2="185.81" y2="362" stroke="#1a1a1a" stroke-width="0.9" />
<line x1="190.59" y1="359" x2="190.59" y2="362" stroke="#1a1a1a" stroke-width="0.9" />
<line x1="194.5" y1="359" x2="194.5" y2="362" stroke="#1a1a1a" stroke-width="0.9" />
<line x1="197.81" y1="359" x2="197.81" y2="362" stroke="#1a1a1a" stroke-width="0.9" />
<line x1="200.67" y1="359" x2="200.67" y2="362" stroke="#1a1a1a" stroke-width="0.9" />
<line x1="203.19" y1="359" x2="203.19" y2="362" stroke="#1a1a1a" stroke-width="0.9" />
<line x1="205.45" y1="359" x2="205.45" y2="364" stroke="#1a1a1a" stroke-width="0.9" />
<line x1="220.31" y1="359" x2="220.31" y2="362" stroke="#1a1a1a" stroke-width="0.9" />
<line x1="229" y1="359" x2="229" y2="362" stroke="#1a1a1a" stroke-width="0.9" />
<line x1="235.16" y1="359" x2="235.16" y2="362" stroke="#1a1a1a" stroke-width="0.9" />
<line x1="239.94" y1="359" x2="239.94" y2="362" stroke="#1a1a1a" stroke-width="0.9" />
<line x1="243.85" y1="359" x2="243.85" y2="362" stroke="#1a1a1a" stroke-width="0.9" />
<line x1="247.16" y1="359" x2="247.16" y2="362" stroke="#1a1a1a" stroke-width="0.9" />
<line x1="250.02" y1="359" x2="250.02" y2="362" stroke="#1a1a1a" stroke-width="0.9" />
<line x1="252.54" y1="359" x2="252.54" y2="362" stroke="#1a1a1a" stroke-width="0.9" />
<line x1="254.8" y1="359" x2="254.8" y2="364" stroke="#1a1a1a" stroke-width="0.9" />
<line x1="269.66" y1="359" x2="269.66" y2="362" stroke="#1a1a1a" stroke-width="0.9" />
<line x1="278.35" y1="359" x2="278.35" y2="362" stroke="#1a1a1a" stroke-width="0.9" />
<line x1="284.51" y1="359" x2="284.51" y2="362" stroke="#1a1a1a" stroke-width="0.9" />
<line x1="289.29" y1="359" x2="289.29" y2="362" stroke="#1a1a1a" stroke-width="0.9" />
<line x1="293.2" y1="359" x2="293.2" y2="362" stroke="#1a1a1a" stroke-width="0.9" />
<line x1="296.51" y1="359" x2="296.51" y2="362" stroke="#1a1a1a" stroke-width="0.9" />
<line x1="299.37" y1="359" x2="299.37" y2="362" stroke="#1a1a1a" stroke-width="0.9" />
<line x1="301.89" y1="359" x2="301.89" y2="362" stroke="#1a1a1a" stroke-width="0.9" />
<line x1="304.15" y1="359" x2="304.15" y2="364" stroke="#1a1a1a" stroke-width="0.9" />
<text x="58.4" y="372.7" font-size="7.9" text-anchor="middle" fill="#222">10<tspan font-size="6" dy="-3.5">-3</tspan></text>
<text x="107.75" y="372.7" font-size="7.9" text-anchor="middle" fill="#222">10<tspan font-size="6" dy="-3.5">-2</tspan></text>
<text x="157.1" y="372.7" font-size="7.9" text-anchor="middle" fill="#222">10<tspan font-size="6" dy="-3.5">-1</tspan></text>
<text x="205.65" y="372.7" font-size="7.9" text-anchor="middle" fill="#222">10<tspan font-size="6" dy="-3.5">0</tspan></text>
<text x="255" y="372.7" font-size="7.9" text-anchor="middle" fill="#222">10<tspan font-size="6" dy="-3.5">1</tspan></text>
<text x="304.35" y="372.7" font-size="7.9" text-anchor="middle" fill="#222">10<tspan font-size="6" dy="-3.5">2</tspan></text>
<line x1="39.5" y1="358.82" x2="42.5" y2="358.82" stroke="#1a1a1a" stroke-width="0.9" />
<line x1="39.5" y1="348.08" x2="42.5" y2="348.08" stroke="#1a1a1a" stroke-width="0.9" />
<line x1="39.5" y1="339.76" x2="42.5" y2="339.76" stroke="#1a1a1a" stroke-width="0.9" />
<line x1="39.5" y1="332.96" x2="42.5" y2="332.96" stroke="#1a1a1a" stroke-width="0.9" />
<line x1="39.5" y1="327.21" x2="42.5" y2="327.21" stroke="#1a1a1a" stroke-width="0.9" />
<line x1="39.5" y1="322.22" x2="42.5" y2="322.22" stroke="#1a1a1a" stroke-width="0.9" />
<line x1="39.5" y1="317.83" x2="42.5" y2="317.83" stroke="#1a1a1a" stroke-width="0.9" />
<line x1="36.3" y1="313.9" x2="42.5" y2="313.9" stroke="#1a1a1a" stroke-width="0.9" />
<line x1="39.5" y1="288.04" x2="42.5" y2="288.04" stroke="#1a1a1a" stroke-width="0.9" />
<line x1="39.5" y1="272.92" x2="42.5" y2="272.92" stroke="#1a1a1a" stroke-width="0.9" />
<line x1="39.5" y1="262.18" x2="42.5" y2="262.18" stroke="#1a1a1a" stroke-width="0.9" />
<line x1="39.5" y1="253.86" x2="42.5" y2="253.86" stroke="#1a1a1a" stroke-width="0.9" />
<line x1="39.5" y1="247.06" x2="42.5" y2="247.06" stroke="#1a1a1a" stroke-width="0.9" />
<line x1="39.5" y1="241.31" x2="42.5" y2="241.31" stroke="#1a1a1a" stroke-width="0.9" />
<line x1="39.5" y1="236.32" x2="42.5" y2="236.32" stroke="#1a1a1a" stroke-width="0.9" />
<line x1="39.5" y1="231.93" x2="42.5" y2="231.93" stroke="#1a1a1a" stroke-width="0.9" />
<line x1="36.3" y1="228" x2="42.5" y2="228" stroke="#1a1a1a" stroke-width="0.9" />
<text x="34.9" y="231.9" font-size="7.9" text-anchor="end" fill="#222">10<tspan font-size="6" dy="-3.5">-7</tspan></text>
<text x="34.9" y="317.8" font-size="7.9" text-anchor="end" fill="#222">10<tspan font-size="6" dy="-3.5">-8</tspan></text>
<line x1="39.3" y1="359" x2="42.5" y2="359" stroke="#3a3a3a" stroke-width="1" />
<rect x="42.5" y="208.5" width="261" height="150.5" fill="none" stroke="#3a3a3a" stroke-width="1"/>
<text x="170.8" y="381.8" font-size="7.9" text-anchor="middle" fill="#222" >Averaging time τ (s)</text>
<text transform="translate(12.3,283.3) rotate(-90)" font-size="7.9" text-anchor="middle" fill="#222">Fractional Allan deviation of <tspan font-style="italic">f</tspan><tspan font-size="5.6" dy="2">rep</tspan></text>
<circle cx="56.9" cy="294.2" r="2.6" fill="#8d97c0" stroke="#2c46a6" stroke-width="1.15"/>
<circle cx="71.7" cy="291.6" r="2.6" fill="#8d97c0" stroke="#2c46a6" stroke-width="1.15"/>
<circle cx="80.3" cy="306.9" r="2.6" fill="#8d97c0" stroke="#2c46a6" stroke-width="1.15"/>
<circle cx="91.4" cy="316" r="2.6" fill="#8d97c0" stroke="#2c46a6" stroke-width="1.15"/>
<circle cx="98.7" cy="312.3" r="2.6" fill="#8d97c0" stroke="#2c46a6" stroke-width="1.15"/>
<circle cx="103.9" cy="316" r="2.6" fill="#8d97c0" stroke="#2c46a6" stroke-width="1.15"/>
<circle cx="111.7" cy="322" r="2.6" fill="#8d97c0" stroke="#2c46a6" stroke-width="1.15"/>
<circle cx="118.7" cy="329" r="2.6" fill="#8d97c0" stroke="#2c46a6" stroke-width="1.15"/>
<circle cx="126.5" cy="336.2" r="2.6" fill="#8d97c0" stroke="#2c46a6" stroke-width="1.15"/>
<circle cx="134" cy="342.7" r="2.6" fill="#8d97c0" stroke="#2c46a6" stroke-width="1.15"/>
<circle cx="141.6" cy="337.8" r="2.6" fill="#8d97c0" stroke="#2c46a6" stroke-width="1.15"/>
<circle cx="149.1" cy="329.2" r="2.6" fill="#8d97c0" stroke="#2c46a6" stroke-width="1.15"/>
<circle cx="156.9" cy="318.8" r="2.6" fill="#8d97c0" stroke="#2c46a6" stroke-width="1.15"/>
<circle cx="164.7" cy="307.7" r="2.6" fill="#8d97c0" stroke="#2c46a6" stroke-width="1.15"/>
<circle cx="172.1" cy="296.1" r="2.6" fill="#8d97c0" stroke="#2c46a6" stroke-width="1.15"/>
<circle cx="179.6" cy="283.9" r="2.6" fill="#8d97c0" stroke="#2c46a6" stroke-width="1.15"/>
<circle cx="187.4" cy="272.7" r="2.6" fill="#8d97c0" stroke="#2c46a6" stroke-width="1.15"/>
<circle cx="194.9" cy="261.6" r="2.6" fill="#8d97c0" stroke="#2c46a6" stroke-width="1.15"/>
<circle cx="202.7" cy="251.2" r="2.6" fill="#8d97c0" stroke="#2c46a6" stroke-width="1.15"/>
<circle cx="210.3" cy="241.6" r="2.6" fill="#8d97c0" stroke="#2c46a6" stroke-width="1.15"/>
<circle cx="218.1" cy="233.2" r="2.6" fill="#8d97c0" stroke="#2c46a6" stroke-width="1.15"/>
<circle cx="225.6" cy="226.8" r="2.6" fill="#8d97c0" stroke="#2c46a6" stroke-width="1.15"/>
<circle cx="233.4" cy="223.1" r="2.6" fill="#8d97c0" stroke="#2c46a6" stroke-width="1.15"/>
<circle cx="240.9" cy="223.9" r="2.6" fill="#8d97c0" stroke="#2c46a6" stroke-width="1.15"/>
<circle cx="248.7" cy="229.6" r="2.6" fill="#8d97c0" stroke="#2c46a6" stroke-width="1.15"/>
<circle cx="256.5" cy="234.5" r="2.6" fill="#8d97c0" stroke="#2c46a6" stroke-width="1.15"/>
<circle cx="264" cy="246.2" r="2.6" fill="#8d97c0" stroke="#2c46a6" stroke-width="1.15"/>
<circle cx="271.8" cy="247.5" r="2.6" fill="#8d97c0" stroke="#2c46a6" stroke-width="1.15"/>
<circle cx="279.4" cy="241.6" r="2.6" fill="#8d97c0" stroke="#2c46a6" stroke-width="1.15"/>
<line x1="357.63" y1="358.5" x2="357.63" y2="361.8" stroke="#1a1a1a" stroke-width="0.9" />
<line x1="360.57" y1="358.5" x2="360.57" y2="361.8" stroke="#1a1a1a" stroke-width="0.9" />
<line x1="363.2" y1="358.5" x2="363.2" y2="363.7" stroke="#1a1a1a" stroke-width="0.9" />
<line x1="380.49" y1="358.5" x2="380.49" y2="361.8" stroke="#1a1a1a" stroke-width="0.9" />
<line x1="390.61" y1="358.5" x2="390.61" y2="361.8" stroke="#1a1a1a" stroke-width="0.9" />
<line x1="397.78" y1="358.5" x2="397.78" y2="361.8" stroke="#1a1a1a" stroke-width="0.9" />
<line x1="403.35" y1="358.5" x2="403.35" y2="361.8" stroke="#1a1a1a" stroke-width="0.9" />
<line x1="407.9" y1="358.5" x2="407.9" y2="361.8" stroke="#1a1a1a" stroke-width="0.9" />
<line x1="411.74" y1="358.5" x2="411.74" y2="361.8" stroke="#1a1a1a" stroke-width="0.9" />
<line x1="415.07" y1="358.5" x2="415.07" y2="361.8" stroke="#1a1a1a" stroke-width="0.9" />
<line x1="418.01" y1="358.5" x2="418.01" y2="361.8" stroke="#1a1a1a" stroke-width="0.9" />
<line x1="420.64" y1="358.5" x2="420.64" y2="363.7" stroke="#1a1a1a" stroke-width="0.9" />
<line x1="437.93" y1="358.5" x2="437.93" y2="361.8" stroke="#1a1a1a" stroke-width="0.9" />
<line x1="448.05" y1="358.5" x2="448.05" y2="361.8" stroke="#1a1a1a" stroke-width="0.9" />
<line x1="455.22" y1="358.5" x2="455.22" y2="361.8" stroke="#1a1a1a" stroke-width="0.9" />
<line x1="460.79" y1="358.5" x2="460.79" y2="361.8" stroke="#1a1a1a" stroke-width="0.9" />
<line x1="465.34" y1="358.5" x2="465.34" y2="361.8" stroke="#1a1a1a" stroke-width="0.9" />
<line x1="469.18" y1="358.5" x2="469.18" y2="361.8" stroke="#1a1a1a" stroke-width="0.9" />
<line x1="472.51" y1="358.5" x2="472.51" y2="361.8" stroke="#1a1a1a" stroke-width="0.9" />
<line x1="475.45" y1="358.5" x2="475.45" y2="361.8" stroke="#1a1a1a" stroke-width="0.9" />
<line x1="478.08" y1="358.5" x2="478.08" y2="363.7" stroke="#1a1a1a" stroke-width="0.9" />
<line x1="495.37" y1="358.5" x2="495.37" y2="361.8" stroke="#1a1a1a" stroke-width="0.9" />
<line x1="505.49" y1="358.5" x2="505.49" y2="361.8" stroke="#1a1a1a" stroke-width="0.9" />
<line x1="512.66" y1="358.5" x2="512.66" y2="361.8" stroke="#1a1a1a" stroke-width="0.9" />
<line x1="518.23" y1="358.5" x2="518.23" y2="361.8" stroke="#1a1a1a" stroke-width="0.9" />
<line x1="522.78" y1="358.5" x2="522.78" y2="361.8" stroke="#1a1a1a" stroke-width="0.9" />
<line x1="526.62" y1="358.5" x2="526.62" y2="361.8" stroke="#1a1a1a" stroke-width="0.9" />
<line x1="529.95" y1="358.5" x2="529.95" y2="361.8" stroke="#1a1a1a" stroke-width="0.9" />
<line x1="532.89" y1="358.5" x2="532.89" y2="361.8" stroke="#1a1a1a" stroke-width="0.9" />
<line x1="535.52" y1="358.5" x2="535.52" y2="363.7" stroke="#1a1a1a" stroke-width="0.9" />
<line x1="552.81" y1="358.5" x2="552.81" y2="361.8" stroke="#1a1a1a" stroke-width="0.9" />
<line x1="562.93" y1="358.5" x2="562.93" y2="361.8" stroke="#1a1a1a" stroke-width="0.9" />
<line x1="570.1" y1="358.5" x2="570.1" y2="361.8" stroke="#1a1a1a" stroke-width="0.9" />
<line x1="575.67" y1="358.5" x2="575.67" y2="361.8" stroke="#1a1a1a" stroke-width="0.9" />
<line x1="580.22" y1="358.5" x2="580.22" y2="361.8" stroke="#1a1a1a" stroke-width="0.9" />
<line x1="584.06" y1="358.5" x2="584.06" y2="361.8" stroke="#1a1a1a" stroke-width="0.9" />
<line x1="587.39" y1="358.5" x2="587.39" y2="361.8" stroke="#1a1a1a" stroke-width="0.9" />
<line x1="590.33" y1="358.5" x2="590.33" y2="361.8" stroke="#1a1a1a" stroke-width="0.9" />
<line x1="592.96" y1="358.5" x2="592.96" y2="363.7" stroke="#1a1a1a" stroke-width="0.9" />
<line x1="610.25" y1="358.5" x2="610.25" y2="361.8" stroke="#1a1a1a" stroke-width="0.9" />
<line x1="620.37" y1="358.5" x2="620.37" y2="361.8" stroke="#1a1a1a" stroke-width="0.9" />
<line x1="627.54" y1="358.5" x2="627.54" y2="361.8" stroke="#1a1a1a" stroke-width="0.9" />
<line x1="633.11" y1="358.5" x2="633.11" y2="361.8" stroke="#1a1a1a" stroke-width="0.9" />
<line x1="637.66" y1="358.5" x2="637.66" y2="361.8" stroke="#1a1a1a" stroke-width="0.9" />
<line x1="641.5" y1="358.5" x2="641.5" y2="361.8" stroke="#1a1a1a" stroke-width="0.9" />
<line x1="644.83" y1="358.5" x2="644.83" y2="361.8" stroke="#1a1a1a" stroke-width="0.9" />
<line x1="647.77" y1="358.5" x2="647.77" y2="361.8" stroke="#1a1a1a" stroke-width="0.9" />
<line x1="650.4" y1="358.5" x2="650.4" y2="363.7" stroke="#1a1a1a" stroke-width="0.9" />
<text x="363.2" y="373.8" font-size="7.9" text-anchor="middle" fill="#222">10<tspan font-size="6" dy="-3.5">-2</tspan></text>
<text x="420.64" y="373.8" font-size="7.9" text-anchor="middle" fill="#222">10<tspan font-size="6" dy="-3.5">-1</tspan></text>
<text x="478.68" y="373.8" font-size="7.9" text-anchor="middle" fill="#222">10<tspan font-size="6" dy="-3.5">0</tspan></text>
<text x="537.32" y="373.8" font-size="7.9" text-anchor="middle" fill="#222">10<tspan font-size="6" dy="-3.5">1</tspan></text>
<text x="594.76" y="373.8" font-size="7.9" text-anchor="middle" fill="#222">10<tspan font-size="6" dy="-3.5">2</tspan></text>
<text x="652.2" y="373.8" font-size="7.9" text-anchor="middle" fill="#222">10<tspan font-size="6" dy="-3.5">3</tspan></text>
<line x1="354.5" y1="355.14" x2="357.5" y2="355.14" stroke="#1a1a1a" stroke-width="0.9" />
<line x1="354.5" y1="352" x2="357.5" y2="352" stroke="#1a1a1a" stroke-width="0.9" />
<line x1="352.5" y1="349.2" x2="357.5" y2="349.2" stroke="#1a1a1a" stroke-width="0.9" />
<line x1="354.5" y1="330.75" x2="357.5" y2="330.75" stroke="#1a1a1a" stroke-width="0.9" />
<line x1="354.5" y1="319.95" x2="357.5" y2="319.95" stroke="#1a1a1a" stroke-width="0.9" />
<line x1="354.5" y1="312.29" x2="357.5" y2="312.29" stroke="#1a1a1a" stroke-width="0.9" />
<line x1="354.5" y1="306.35" x2="357.5" y2="306.35" stroke="#1a1a1a" stroke-width="0.9" />
<line x1="354.5" y1="301.5" x2="357.5" y2="301.5" stroke="#1a1a1a" stroke-width="0.9" />
<line x1="354.5" y1="297.4" x2="357.5" y2="297.4" stroke="#1a1a1a" stroke-width="0.9" />
<line x1="354.5" y1="293.84" x2="357.5" y2="293.84" stroke="#1a1a1a" stroke-width="0.9" />
<line x1="354.5" y1="290.7" x2="357.5" y2="290.7" stroke="#1a1a1a" stroke-width="0.9" />
<line x1="352.5" y1="287.9" x2="357.5" y2="287.9" stroke="#1a1a1a" stroke-width="0.9" />
<line x1="354.5" y1="269.45" x2="357.5" y2="269.45" stroke="#1a1a1a" stroke-width="0.9" />
<line x1="354.5" y1="258.65" x2="357.5" y2="258.65" stroke="#1a1a1a" stroke-width="0.9" />
<line x1="354.5" y1="250.99" x2="357.5" y2="250.99" stroke="#1a1a1a" stroke-width="0.9" />
<line x1="354.5" y1="245.05" x2="357.5" y2="245.05" stroke="#1a1a1a" stroke-width="0.9" />
<line x1="354.5" y1="240.2" x2="357.5" y2="240.2" stroke="#1a1a1a" stroke-width="0.9" />
<line x1="354.5" y1="236.1" x2="357.5" y2="236.1" stroke="#1a1a1a" stroke-width="0.9" />
<line x1="354.5" y1="232.54" x2="357.5" y2="232.54" stroke="#1a1a1a" stroke-width="0.9" />
<line x1="354.5" y1="229.4" x2="357.5" y2="229.4" stroke="#1a1a1a" stroke-width="0.9" />
<line x1="352.5" y1="226.6" x2="357.5" y2="226.6" stroke="#1a1a1a" stroke-width="0.9" />
<text x="349.9" y="230.6" font-size="7.9" text-anchor="end" fill="#222">10<tspan font-size="6" dy="-3.5">-14</tspan></text>
<text x="349.9" y="291.9" font-size="7.9" text-anchor="end" fill="#222">10<tspan font-size="6" dy="-3.5">-15</tspan></text>
<text x="349.9" y="353.2" font-size="7.9" text-anchor="end" fill="#222">10<tspan font-size="6" dy="-3.5">-16</tspan></text>
<line x1="650.9" y1="350.63" x2="653.9" y2="350.63" stroke="#1a1a1a" stroke-width="0.9" />
<line x1="650.9" y1="339.83" x2="653.9" y2="339.83" stroke="#1a1a1a" stroke-width="0.9" />
<line x1="650.9" y1="332.16" x2="653.9" y2="332.16" stroke="#1a1a1a" stroke-width="0.9" />
<line x1="650.9" y1="326.22" x2="653.9" y2="326.22" stroke="#1a1a1a" stroke-width="0.9" />
<line x1="650.9" y1="321.36" x2="653.9" y2="321.36" stroke="#1a1a1a" stroke-width="0.9" />
<line x1="650.9" y1="317.25" x2="653.9" y2="317.25" stroke="#1a1a1a" stroke-width="0.9" />
<line x1="650.9" y1="313.7" x2="653.9" y2="313.7" stroke="#1a1a1a" stroke-width="0.9" />
<line x1="650.9" y1="310.56" x2="653.9" y2="310.56" stroke="#1a1a1a" stroke-width="0.9" />
<line x1="650.9" y1="307.75" x2="656.3" y2="307.75" stroke="#1a1a1a" stroke-width="0.9" />
<line x1="650.9" y1="289.28" x2="653.9" y2="289.28" stroke="#1a1a1a" stroke-width="0.9" />
<line x1="650.9" y1="278.48" x2="653.9" y2="278.48" stroke="#1a1a1a" stroke-width="0.9" />
<line x1="650.9" y1="270.81" x2="653.9" y2="270.81" stroke="#1a1a1a" stroke-width="0.9" />
<line x1="650.9" y1="264.87" x2="653.9" y2="264.87" stroke="#1a1a1a" stroke-width="0.9" />
<line x1="650.9" y1="260.01" x2="653.9" y2="260.01" stroke="#1a1a1a" stroke-width="0.9" />
<line x1="650.9" y1="255.9" x2="653.9" y2="255.9" stroke="#1a1a1a" stroke-width="0.9" />
<line x1="650.9" y1="252.35" x2="653.9" y2="252.35" stroke="#1a1a1a" stroke-width="0.9" />
<line x1="650.9" y1="249.21" x2="653.9" y2="249.21" stroke="#1a1a1a" stroke-width="0.9" />
<line x1="650.9" y1="246.4" x2="656.3" y2="246.4" stroke="#1a1a1a" stroke-width="0.9" />
<line x1="650.9" y1="227.93" x2="653.9" y2="227.93" stroke="#1a1a1a" stroke-width="0.9" />
<line x1="650.9" y1="217.13" x2="653.9" y2="217.13" stroke="#1a1a1a" stroke-width="0.9" />
<line x1="650.9" y1="209.46" x2="653.9" y2="209.46" stroke="#1a1a1a" stroke-width="0.9" />
<text x="657.1" y="249.4" font-size="7.9" text-anchor="start" fill="#222">10<tspan font-size="6" dy="-3.5">-11</tspan></text>
<text x="657.1" y="310.75" font-size="7.9" text-anchor="start" fill="#222">10<tspan font-size="6" dy="-3.5">-12</tspan></text>
<line x1="354.2" y1="208.5" x2="650.9" y2="208.5" stroke="#3a3a3a" stroke-width="1" />
<line x1="354.2" y1="358.5" x2="650.9" y2="358.5" stroke="#3a3a3a" stroke-width="1" />
<line x1="357.5" y1="208.5" x2="357.5" y2="358.5" stroke="#3a3a3a" stroke-width="1" />
<line x1="650.9" y1="208.5" x2="650.9" y2="358.5" stroke="#3a3a3a" stroke-width="1" />
<text x="515" y="382.6" font-size="7.9" text-anchor="middle" fill="#222" >Averaging time τ (s)</text>
<text transform="translate(329.2,285.3) rotate(-90)" font-size="7.9" text-anchor="middle" fill="#222">Relative Allan deviation <tspan font-style="italic">σ</tspan> / <tspan font-style="italic">f</tspan><tspan font-size="5.6" dy="2">opt</tspan></text>
<text transform="translate(677.6,285.8) rotate(90)" font-size="7.9" text-anchor="middle" fill="#222">Relative Allan deviation <tspan font-style="italic">σ</tspan> / <tspan font-style="italic">f</tspan><tspan font-size="5.6" dy="2">rep</tspan></text>
<line x1="363.2" y1="219.2" x2="621.4" y2="356.6" stroke="#3a5ab8" stroke-width="1.1" stroke-dasharray="6 3.2"/>
<circle cx="363.3" cy="218" r="2.6" fill="#8d97c0" stroke="#2c46a6" stroke-width="1.15"/>
<circle cx="380.4" cy="229.1" r="2.6" fill="#8d97c0" stroke="#2c46a6" stroke-width="1.15"/>
<circle cx="397.8" cy="238.2" r="2.6" fill="#8d97c0" stroke="#2c46a6" stroke-width="1.15"/>
<circle cx="415" cy="249.6" r="2.6" fill="#8d97c0" stroke="#2c46a6" stroke-width="1.15"/>
<circle cx="432.3" cy="258.7" r="2.6" fill="#8d97c0" stroke="#2c46a6" stroke-width="1.15"/>
<circle cx="449.7" cy="268.1" r="2.6" fill="#8d97c0" stroke="#2c46a6" stroke-width="1.15"/>
<circle cx="467.1" cy="276.9" r="2.6" fill="#8d97c0" stroke="#2c46a6" stroke-width="1.15"/>
<circle cx="484.2" cy="283.9" r="2.6" fill="#8d97c0" stroke="#2c46a6" stroke-width="1.15"/>
<circle cx="501.7" cy="288.4" r="2.6" fill="#8d97c0" stroke="#2c46a6" stroke-width="1.15"/>
<circle cx="518.9" cy="291" r="2.6" fill="#8d97c0" stroke="#2c46a6" stroke-width="1.15"/>
<circle cx="536.3" cy="292.8" r="2.6" fill="#8d97c0" stroke="#2c46a6" stroke-width="1.15"/>
<circle cx="553.7" cy="303.7" r="2.6" fill="#8d97c0" stroke="#2c46a6" stroke-width="1.15"/>
<circle cx="570.8" cy="316.1" r="2.6" fill="#8d97c0" stroke="#2c46a6" stroke-width="1.15"/>
<circle cx="588.4" cy="332" r="2.6" fill="#8d97c0" stroke="#2c46a6" stroke-width="1.15"/>
<circle cx="605.6" cy="346" r="2.6" fill="#8d97c0" stroke="#2c46a6" stroke-width="1.15"/>
<circle cx="623" cy="348.8" r="2.6" fill="#8d97c0" stroke="#2c46a6" stroke-width="1.15"/>
<text x="382" y="309" font-size="7.9" fill="#222"><tspan font-style="italic">σ</tspan> / <tspan font-style="italic">f</tspan><tspan font-size="6" dy="2.6">opt</tspan><tspan dy="-2.6"> = 1.3×10</tspan><tspan font-size="6" dy="-3.6">-15</tspan><tspan dy="3.6">τ</tspan><tspan font-size="6" dy="-3.6">-0.5</tspan></text>
<text x="382" y="328.8" font-size="7.9" fill="#222"><tspan font-style="italic">σ</tspan> / <tspan font-style="italic">f</tspan><tspan font-size="6" dy="2.6">rep</tspan><tspan dy="-2.6"> = 2.8×10</tspan><tspan font-size="6" dy="-3.6">-12</tspan><tspan dy="3.6">τ</tspan><tspan font-size="6" dy="-3.6">-0.5</tspan></text>
<rect x="502.9" y="211.3" width="144" height="52.2" fill="#fff" stroke="none"/>
<rect x="574.7" y="216.8" width="2.2" height="46.7" fill="#3a5db5"/>
<rect x="571.9" y="220" width="2.2" height="43.5" fill="#3a5db5"/>
<rect x="569.1" y="220" width="2.2" height="43.5" fill="#3a5db5"/>
<rect x="566.3" y="222.5" width="2.2" height="41" fill="#3a5db5"/>
<rect x="563.5" y="231.9" width="2.2" height="31.6" fill="#3a5db5"/>
<rect x="560.7" y="233.8" width="2.2" height="29.7" fill="#3a5db5"/>
<rect x="557.9" y="246.8" width="2.2" height="16.7" fill="#3a5db5"/>
<rect x="555.1" y="250.7" width="2.2" height="12.8" fill="#3a5db5"/>
<rect x="552.3" y="254" width="2.2" height="9.5" fill="#3a5db5"/>
<rect x="549.5" y="255.9" width="2.2" height="7.6" fill="#3a5db5"/>
<rect x="546.7" y="257.2" width="2.2" height="6.3" fill="#3a5db5"/>
<rect x="543.9" y="259.8" width="2.2" height="3.7" fill="#3a5db5"/>
<rect x="541.1" y="260.5" width="2.2" height="3" fill="#3a5db5"/>
<rect x="538.3" y="261.5" width="2.2" height="2" fill="#3a5db5"/>
<rect x="535.5" y="262.3" width="2.2" height="1.2" fill="#3a5db5"/>
<rect x="518.7" y="262.7" width="2.2" height="0.8" fill="#3a5db5"/>
<rect x="577.5" y="226.4" width="2.2" height="37.1" fill="#3a5db5"/>
<rect x="580.3" y="228.2" width="2.2" height="35.3" fill="#3a5db5"/>
<rect x="583.1" y="234.1" width="2.2" height="29.4" fill="#3a5db5"/>
<rect x="585.9" y="233.2" width="2.2" height="30.3" fill="#3a5db5"/>
<rect x="588.7" y="240.9" width="2.2" height="22.6" fill="#3a5db5"/>
<rect x="591.5" y="243.6" width="2.2" height="19.9" fill="#3a5db5"/>
<rect x="594.3" y="248.6" width="2.2" height="14.9" fill="#3a5db5"/>
<rect x="597.1" y="252.3" width="2.2" height="11.2" fill="#3a5db5"/>
<rect x="599.9" y="255" width="2.2" height="8.5" fill="#3a5db5"/>
<rect x="602.7" y="257.3" width="2.2" height="6.2" fill="#3a5db5"/>
<rect x="605.5" y="260.9" width="2.2" height="2.6" fill="#3a5db5"/>
<rect x="608.3" y="259.1" width="2.2" height="4.4" fill="#3a5db5"/>
<rect x="611.1" y="261" width="2.2" height="2.5" fill="#3a5db5"/>
<rect x="613.9" y="261.8" width="2.2" height="1.7" fill="#3a5db5"/>
<rect x="616.7" y="262.4" width="2.2" height="1.1" fill="#3a5db5"/>
<rect x="622.3" y="262.5" width="2.2" height="1" fill="#3a5db5"/>
<rect x="644.7" y="262.4" width="2.2" height="1.1" fill="#3a5db5"/>
<polyline points="503.6,263.5 504.2,263.5 504.79,263.5 505.39,263.5 505.99,263.5 506.59,263.5 507.18,263.5 507.78,263.5 508.38,263.5 508.98,263.5 509.57,263.5 510.17,263.5 510.77,263.5 511.37,263.5 511.96,263.5 512.56,263.5 513.16,263.5 513.76,263.49 514.36,263.49 514.95,263.49 515.55,263.49 516.15,263.49 516.75,263.49 517.34,263.49 517.94,263.48 518.54,263.48 519.13,263.48 519.73,263.47 520.33,263.47 520.93,263.46 521.52,263.46 522.12,263.45 522.72,263.44 523.32,263.43 523.91,263.42 524.51,263.41 525.11,263.39 525.71,263.38 526.3,263.36 526.9,263.34 527.5,263.32 528.1,263.29 528.69,263.26 529.29,263.22 529.89,263.19 530.49,263.14 531.08,263.1 531.68,263.04 532.28,262.98 532.88,262.91 533.47,262.84 534.07,262.76 534.67,262.66 535.27,262.56 535.87,262.45 536.46,262.33 537.06,262.19 537.66,262.04 538.25,261.88 538.85,261.7 539.45,261.5 540.05,261.29 540.64,261.06 541.24,260.81 541.84,260.54 542.44,260.24 543.03,259.93 543.63,259.59 544.23,259.22 544.83,258.83 545.42,258.41 546.02,257.96 546.62,257.48 547.22,256.97 547.81,256.44 548.41,255.86 549.01,255.26 549.61,254.63 550.2,253.96 550.8,253.26 551.4,252.53 552,251.76 552.59,250.96 553.19,250.13 553.79,249.27 554.39,248.38 554.98,247.46 555.58,246.52 556.18,245.55 556.78,244.55 557.38,243.54 557.97,242.5 558.57,241.45 559.17,240.38 559.76,239.31 560.36,238.23 560.96,237.14 561.56,236.05 562.15,234.97 562.75,233.89 563.35,232.83 563.95,231.78 564.54,230.75 565.14,229.74 565.74,228.76 566.34,227.82 566.93,226.91 567.53,226.04 568.13,225.21 568.73,224.43 569.32,223.71 569.92,223.03 570.52,222.42 571.12,221.87 571.71,221.38 572.31,220.96 572.91,220.6 573.51,220.32 574.1,220.11 574.7,219.97 575.3,219.9 575.9,219.91 576.5,219.99 577.09,220.14 577.69,220.37 578.29,220.67 578.88,221.04 579.48,221.47 580.08,221.97 580.68,222.54 581.27,223.16 581.87,223.85 582.47,224.58 583.07,225.37 583.66,226.21 584.26,227.09 584.86,228 585.46,228.96 586.05,229.94 586.65,230.95 587.25,231.99 587.85,233.04 588.44,234.11 589.04,235.18 589.64,236.27 590.24,237.36 590.83,238.44 591.43,239.52 592.03,240.6 592.63,241.66 593.22,242.71 593.82,243.74 594.42,244.75 595.02,245.74 595.62,246.71 596.21,247.65 596.81,248.56 597.41,249.45 598,250.3 598.6,251.13 599.2,251.92 599.8,252.68 600.39,253.4 600.99,254.1 601.59,254.76 602.19,255.39 602.78,255.98 603.38,256.55 603.98,257.08 604.58,257.58 605.17,258.05 605.77,258.49 606.37,258.91 606.97,259.3 607.56,259.66 608.16,259.99 608.76,260.3 609.36,260.59 609.95,260.86 610.55,261.11 611.15,261.34 611.75,261.54 612.34,261.74 612.94,261.91 613.54,262.07 614.14,262.22 614.74,262.35 615.33,262.47 615.93,262.58 616.53,262.68 617.12,262.77 617.72,262.85 618.32,262.93 618.92,262.99 619.51,263.05 620.11,263.11 620.71,263.15 621.31,263.19 621.9,263.23 622.5,263.26 623.1,263.29 623.7,263.32 624.29,263.34 624.89,263.36 625.49,263.38 626.09,263.4 626.68,263.41 627.28,263.42 627.88,263.43 628.48,263.44 629.07,263.45 629.67,263.46 630.27,263.46 630.87,263.47 631.46,263.47 632.06,263.48 632.66,263.48 633.26,263.48 633.85,263.49 634.45,263.49 635.05,263.49 635.65,263.49 636.24,263.49 636.84,263.49 637.44,263.49 638.04,263.5 638.63,263.5 639.23,263.5 639.83,263.5 640.43,263.5 641.02,263.5 641.62,263.5 642.22,263.5 642.82,263.5 643.41,263.5 644.01,263.5 644.61,263.5 645.21,263.5 645.8,263.5 646.4,263.5 647,263.5" fill="none" stroke="#c02a3a" stroke-width="1.0" stroke-linejoin="round" />
<rect x="502.9" y="211.3" width="144" height="52.2" fill="none" stroke="#3a3a3a" stroke-width="0.9"/>
<line x1="499.9" y1="263.5" x2="502.9" y2="263.5" stroke="#3a3a3a" stroke-width="0.8" />
<text x="501" y="266.3" font-size="7.6" text-anchor="end" fill="#222" >0</text>
<line x1="499.9" y1="237.85" x2="502.9" y2="237.85" stroke="#3a3a3a" stroke-width="0.8" />
<text x="501" y="240.65" font-size="7.6" text-anchor="end" fill="#222" >50</text>
<line x1="499.9" y1="212.2" x2="502.9" y2="212.2" stroke="#3a3a3a" stroke-width="0.8" />
<text x="501" y="215" font-size="7.6" text-anchor="end" fill="#222" >100</text>
<line x1="527.5" y1="263.5" x2="527.5" y2="266.5" stroke="#3a3a3a" stroke-width="0.8" />
<text x="527.5" y="272.3" font-size="7.2" text-anchor="middle" fill="#222" >-1</text>
<line x1="575.3" y1="263.5" x2="575.3" y2="266.5" stroke="#3a3a3a" stroke-width="0.8" />
<text x="575.3" y="272.3" font-size="7.2" text-anchor="middle" fill="#222" >0</text>
<line x1="623.1" y1="263.5" x2="623.1" y2="266.5" stroke="#3a3a3a" stroke-width="0.8" />
<text x="623.1" y="272.3" font-size="7.2" text-anchor="middle" fill="#222" >1</text>
<text x="574.5" y="279.2" font-size="7.9" text-anchor="middle" fill="#222" ><tspan font-style="italic">ε</tspan> (Hz)</text>
<text transform="translate(490.9,237.2) rotate(-90)" font-size="7.9" text-anchor="middle" fill="#222">Counts</text>
<text x="506.4" y="220.8" font-size="7.9" text-anchor="start" fill="#222" >1001 counts</text>
<text x="506.4" y="229.2" font-size="7.9" text-anchor="start" fill="#222" >1-s gate time</text>
<text x="646.3" y="220.6" font-size="7.9" text-anchor="end" fill="#222" ><tspan font-style="italic">ε̄</tspan> = 5.4±9.6 mHz</text>
<text x="642.5" y="228.4" font-size="7.9" text-anchor="end" fill="#222" ><tspan font-style="italic">σ</tspan><tspan font-size="5.6" dy="2.2" dx="1.6" font-style="italic">ε</tspan><tspan dy="-2.2"> = 304 mHz</tspan></text>
</svg></body></html>
